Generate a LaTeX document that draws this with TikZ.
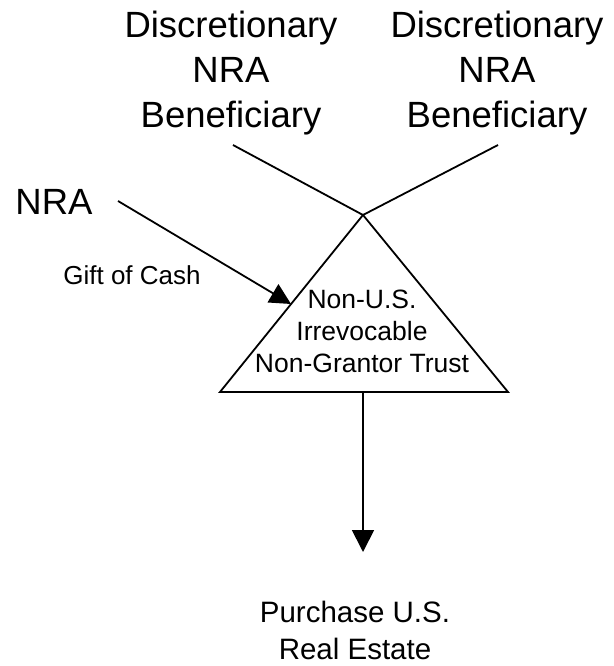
\documentclass[tikz,border=0pt]{standalone}
\usepackage{fontspec}
\setmainfont{Liberation Sans}
\usetikzlibrary{arrows.meta}
\begin{document}
\begin{tikzpicture}[x=1pt,y=-1pt,
  big/.style={font=\fontsize{36.5}{45}\selectfont, align=center, inner sep=0pt, anchor=base},
  small/.style={font=\fontsize{26.5}{32}\selectfont, align=center, inner sep=0pt, anchor=base},
  line/.style={line width=1.8pt, line cap=butt},
  arr/.style={line, -{Triangle[length=22pt,width=22pt]}},
  arrs/.style={line, -{Triangle[length=21pt,width=21pt]}}]
  \useasboundingbox (0,0) rectangle (613,666);

  % beneficiaries (anchored on the baseline of the last line)
  \node[big] (ben1) at (231,128) {Discretionary\\NRA\\Beneficiary};
  \node[big] (ben2) at (497,128) {Discretionary\\NRA\\Beneficiary};

  % grantor
  \node[big] (nra) at (54,214) {NRA};

  % trust triangle
  \coordinate (apex) at (363,215);
  \coordinate (bl) at (220,392);
  \coordinate (br) at (508,392);
  \coordinate (bm) at (363,392);
  \draw[line, line join=miter] (apex) -- (bl) -- (br) -- cycle;
  \node[small] (trust) at (362,372) {Non-U.S.\\Irrevocable\\Non-Grantor Trust};

  % lines from the beneficiaries to the trust
  \coordinate (b1end) at (233,145);
  \coordinate (b2end) at (498,145);
  \draw[line] (b1end) -- (apex) -- (b2end);

  % gift of cash
  \coordinate (giftstart) at (118,201);
  \coordinate (gifttip) at (291,304);
  \draw[arrs] (giftstart) -- (gifttip);
  \node[small, font=\fontsize{26}{32}\selectfont] (gift) at (132,284) {Gift of Cash};

  % purchase
  \node[small, font=\fontsize{29.5}{37}\selectfont] (purchase) at (355,659) {Purchase U.S.\\Real Estate};
  \coordinate (ptip) at (363,552);
  \draw[arr] (bm) -- (ptip);
\end{tikzpicture}
\end{document}
